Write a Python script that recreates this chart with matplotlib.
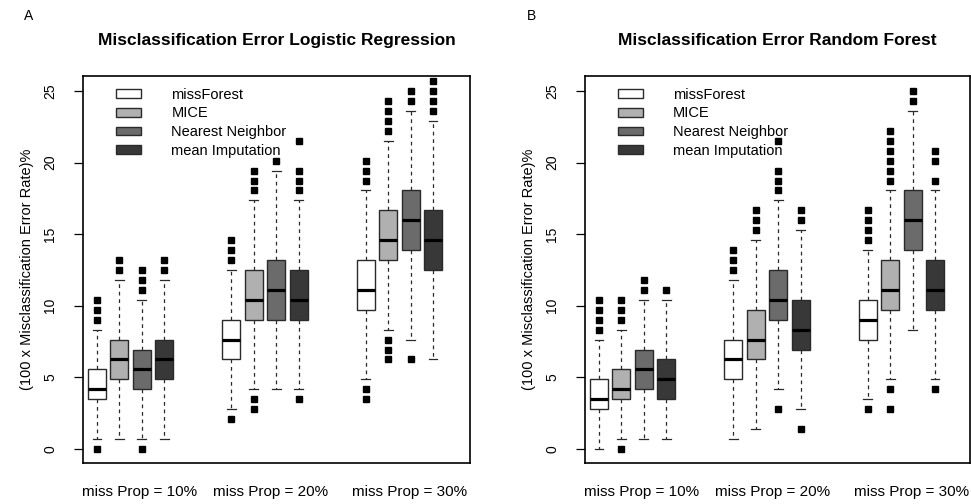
import matplotlib
matplotlib.use("Agg")
import matplotlib.pyplot as plt
from matplotlib.patches import Patch

plt.rcParams['font.family'] = ['Liberation Sans', 'DejaVu Sans']

methods = ["missForest", "MICE", "Nearest Neighbor", "mean Imputation"]
method_colors = ["#ffffff", "#b0b0b0", "#6b6b6b", "#383838"]
groups = ["miss Prop = 10%", "miss Prop = 20%", "miss Prop = 30%"]

# box order: 10% (4 methods), 20% (4 methods), 30% (4 methods)
# --- panel A: logistic regression ---
lr_q1 = [3.47, 4.86, 4.17, 4.86, 6.25, 9.03, 9.03, 9.03, 9.72, 13.19, 13.89, 12.50]
lr_med = [4.17, 6.25, 5.56, 6.25, 7.64, 10.42, 11.11, 10.42, 11.11, 14.58, 15.97, 14.58]
lr_q3 = [5.56, 7.64, 6.94, 7.64, 9.03, 12.50, 13.19, 12.50, 13.19, 16.67, 18.06, 16.67]
lr_lo = [0.69, 0.69, 0.69, 0.69, 2.78, 4.17, 4.17, 4.17, 4.86, 8.33, 7.64, 6.25]
lr_hi = [8.33, 11.81, 10.42, 11.81, 12.50, 17.36, 19.44, 17.36, 18.06, 21.53, 23.61, 22.92]
lr_out = [
    [0.0, 9.03, 9.72, 10.42],
    [12.50, 13.19],
    [0.0, 11.11, 11.81, 12.50],
    [12.50, 13.19],
    [2.08, 13.19, 13.89, 14.58],
    [2.78, 3.47, 18.06, 18.75, 19.44],
    [20.14],
    [3.47, 18.06, 18.75, 19.44, 21.53],
    [3.47, 4.17, 18.75, 19.44, 20.14],
    [6.25, 6.94, 7.64, 22.22, 22.92, 23.61, 24.31],
    [6.25, 24.31, 25.00],
    [23.61, 24.31, 25.00, 25.69],
]

# --- panel B: random forest ---
rf_q1 = [2.78, 3.47, 4.17, 3.47, 4.86, 6.25, 9.03, 6.94, 7.64, 9.72, 13.89, 9.72]
rf_med = [3.47, 4.17, 5.56, 4.86, 6.25, 7.64, 10.42, 8.33, 9.03, 11.11, 15.97, 11.11]
rf_q3 = [4.86, 5.56, 6.94, 6.25, 7.64, 9.72, 12.50, 10.42, 10.42, 13.19, 18.06, 13.19]
rf_lo = [0.0, 0.69, 0.69, 0.69, 0.69, 1.39, 4.17, 2.78, 3.47, 4.86, 8.33, 4.86]
rf_hi = [7.64, 8.33, 10.42, 10.42, 11.81, 14.58, 17.36, 15.28, 13.89, 18.06, 23.61, 18.06]
rf_out = [
    [8.33, 9.03, 9.72, 10.42],
    [0.0, 9.03, 9.72, 10.42],
    [11.11, 11.81],
    [11.11],
    [12.50, 13.19, 13.89],
    [15.28, 15.97, 16.67],
    [2.78, 18.06, 18.75, 19.44, 21.53],
    [1.39, 15.97, 16.67],
    [2.78, 14.58, 15.28, 15.97, 16.67],
    [2.78, 4.17, 18.75, 19.44, 20.14, 20.83, 21.53, 22.22],
    [24.31, 25.00],
    [4.17, 18.75, 20.14, 20.83],
]

positions = [1, 2, 3, 4, 7, 8, 9, 10, 13, 14, 15, 16]
group_label_pos = [2.9, 8.75, 14.95]


def draw_panel(ax, q1, med, q3, lo, hi, out, title, letter, xmax):
    stats = []
    for i in range(len(med)):
        stats.append(dict(q1=q1[i], med=med[i], q3=q3[i],
                          whislo=lo[i], whishi=hi[i], fliers=out[i]))
    bp = ax.bxp(stats, positions=positions, widths=0.8, capwidths=0.4,
                patch_artist=True, showfliers=True,
                boxprops=dict(edgecolor="#2a2a2a", linewidth=1.0),
                medianprops=dict(color="black", linewidth=2.3),
                whiskerprops=dict(color="#2a2a2a", linewidth=0.9, linestyle=(0, (3, 3))),
                capprops=dict(color="#2a2a2a", linewidth=0.9),
                flierprops=dict(marker="s", markersize=5, markerfacecolor="black",
                                markeredgecolor="black", linestyle="none"))
    for i, box in enumerate(bp["boxes"]):
        box.set_facecolor(method_colors[i % 4])

    ax.set_xlim(0.375, xmax)
    ax.set_ylim(-0.98, 26.05)
    ax.set_yticks([0, 5, 10, 15, 20, 25])
    ax.set_yticklabels(["0", "5", "10", "15", "20", "25"], rotation=90, va="center")
    ax.tick_params(axis="y", length=6.5, width=0.9, pad=12, labelsize=10)
    ax.set_xticks(group_label_pos)
    ax.set_xticklabels(groups)
    ax.tick_params(axis="x", length=0, pad=16, labelsize=11)
    for sp in ax.spines.values():
        sp.set_linewidth(1.2)
        sp.set_color("black")

    ax.set_ylabel("(100 x Misclassification Error Rate)%", fontsize=10.5, va="center")
    ax.yaxis.set_label_coords(-0.145, 0.5)
    ax.set_title(title, fontsize=12.5, fontweight="bold", pad=22)
    ax.text(-0.14, 1.155, letter, transform=ax.transAxes, fontsize=10, ha="center", va="center")

    handles = [Patch(facecolor=c, edgecolor="#2a2a2a", linewidth=1.0) for c in method_colors]
    ax.legend(handles, methods, loc="upper left", bbox_to_anchor=(0.085, 0.97),
              frameon=False, fontsize=10.5, handlelength=1.7, handleheight=0.55,
              handletextpad=2.1, labelspacing=0.33, borderpad=0, borderaxespad=0)


fig = plt.figure(figsize=(9.71, 5.04), dpi=100)
ax1 = fig.add_axes([83 / 971, 41 / 504, 387 / 971, 387 / 504])
ax2 = fig.add_axes([585 / 971, 41 / 504, 385 / 971, 387 / 504])

draw_panel(ax1, lr_q1, lr_med, lr_q3, lr_lo, lr_hi, lr_out,
           "Misclassification Error Logistic Regression", "A", 0.375 + 387 / 22.4)
draw_panel(ax2, rf_q1, rf_med, rf_q3, rf_lo, rf_hi, rf_out,
           "Misclassification Error Random Forest", "B", 0.375 + 385 / 22.4)

fig.savefig("out.png", dpi=100)
